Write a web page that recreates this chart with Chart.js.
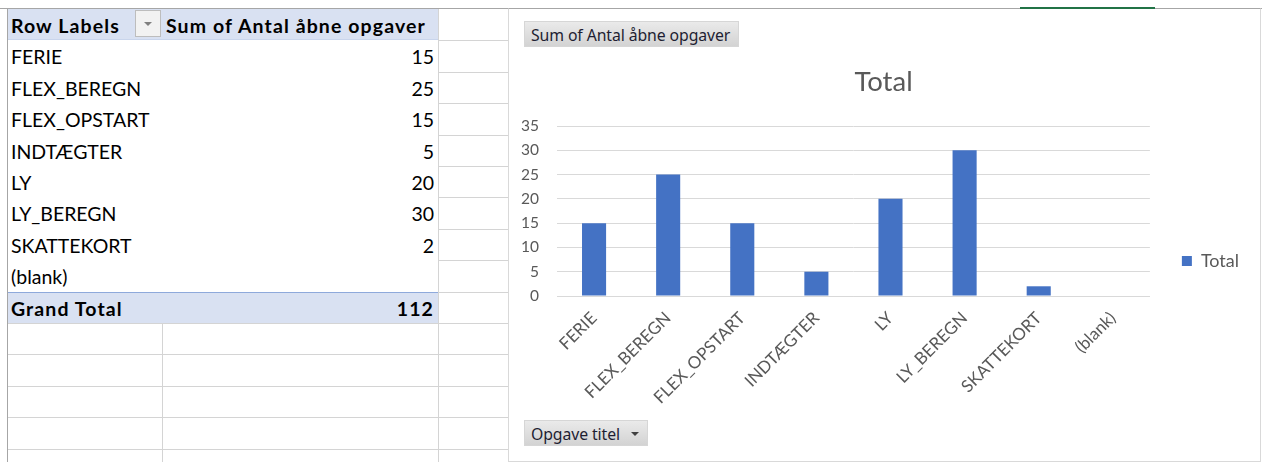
<!DOCTYPE html>
<html>
<head>
<meta charset="utf-8">
<script src="https://cdn.jsdelivr.net/npm/chart.js@4.4.1/dist/chart.umd.min.js"></script>
<style>
  html, body { margin: 0; padding: 0; background: #fff; width: 1262px; height: 462px; overflow: hidden; }
  #sheet { position: absolute; left: 0; top: 0; width: 1262px; height: 462px; font-family: Lato, "Liberation Sans", sans-serif; }
  .ln { position: absolute; }
  .cell { position: absolute; font-size: 19.5px; color: #000; white-space: nowrap; }
  .bold { font-weight: bold; letter-spacing: 1.1px; }
  #chartBox { position: absolute; left: 508px; top: 8px; width: 751px; height: 452px; border: 1px solid #d9d9d9; border-top-color: #a6a6a6; background: #fff; }
  #chart { position: absolute; left: 0; top: 0; }
  .fieldBtn { position: absolute; height: 26px; line-height: 26px; font-family: "Noto Sans", "Open Sans", sans-serif; font-size: 15.8px; color: #1e1e32;
              background: linear-gradient(#eaeaea, #d3d3d3); border: 1px solid #d6d6d6; box-sizing: border-box; padding-left: 6px; white-space: nowrap; letter-spacing: -0.1px; }
  .tri { position: absolute; width: 0; height: 0; border-left: 4px solid transparent; border-right: 4px solid transparent; border-top: 4px solid #404040; }
  #greenTab { position: absolute; left: 1020px; top: 7px; width: 135px; height: 2px; background: #217346; }
  #pivotDrop { position: absolute; left: 135px; top: 10px; width: 26px; height: 27px; box-sizing: border-box; border: 1px solid #bdbdbd; background: #f2f2f2; }
</style>
</head>
<body>
<div id="sheet"></div>
<div id="chartBox">
  <canvas id="chart" width="750" height="451"></canvas>
  <div class="fieldBtn" style="left:15px; top:12px; width:215px;">Sum of Antal åbne opgaver</div>
  <div class="fieldBtn" style="left:15px; top:411px; width:124px;">Opgave titel<span class="tri" style="left:106px; top:11px;"></span></div>
</div>
<div id="greenTab"></div>

<script>
// Pivot data: task titles and number of open tasks per title
const categories = ['FERIE', 'FLEX_BEREGN', 'FLEX_OPSTART', 'INDTÆGTER', 'LY', 'LY_BEREGN', 'SKATTEKORT', '(blank)'];
const openTasks = [15, 25, 15, 5, 20, 30, 2, null];
const seriesName = 'Total';
const rowHeader = 'Row Labels';
const valueHeader = 'Sum of Antal åbne opgaver';
const totalLabel = 'Grand Total';
const yTickMin = 0;
const yTickMax = 35;
const yTickStep = 5;

// ---- worksheet grid and pivot table ----
const sheet = document.getElementById('sheet');
const ROW_H = 31.4, Y0 = 9;
const X_A = 7, X_B = 162, X_C = 438, X_END = 508;
const rowTop = i => Y0 + ROW_H * i;

function box(x, y, w, h, color) {
  const d = document.createElement('div');
  d.className = 'ln';
  d.style.left = x + 'px'; d.style.top = y + 'px';
  d.style.width = w + 'px'; d.style.height = h + 'px';
  d.style.background = color;
  sheet.appendChild(d);
  return d;
}
function cell(txt, row, opts) {
  const d = document.createElement('div');
  d.className = 'cell' + (opts.bold ? ' bold' : '');
  d.textContent = txt;
  d.style.top = rowTop(row) + 'px';
  d.style.height = ROW_H + 'px';
  d.style.lineHeight = (ROW_H + 2) + 'px';
  if (opts.right !== undefined) { d.style.right = (1262 - opts.right) + 'px'; d.style.textAlign = 'right'; }
  else d.style.left = opts.left + 'px';
  sheet.appendChild(d);
}

const gridColor = '#d4d4d4';
const totalRow = categories.length + 1;
const lastRow = totalRow + 6;

// header and grand-total shading
box(X_A + 1, Y0, X_C - X_A - 1, ROW_H, '#d9e1f2');
box(X_A + 1, rowTop(1) - 1, X_C - X_A - 1, 1, '#c9d5ec');
box(X_A + 1, rowTop(totalRow), X_C - X_A - 1, ROW_H, '#d9e1f2');
box(X_A + 1, rowTop(totalRow), X_C - X_A - 1, 1, '#8ea9db');

// column C gridlines
for (let i = 1; i <= lastRow; i++) box(X_C, rowTop(i), X_END - X_C, 1, gridColor);
box(X_C, Y0, 1, 462 - Y0, gridColor);
// empty rows below the pivot
for (let i = totalRow + 1; i <= lastRow; i++) box(X_A, rowTop(i), X_C - X_A, 1, gridColor);
box(X_B, rowTop(totalRow + 1), 1, 462 - rowTop(totalRow + 1), gridColor);

// sheet outer edges
box(0, 8, 1262, 1, '#a6a6a6');
box(X_A, 8, 1, 462 - 8, '#a6a6a6');

// header row
cell(rowHeader, 0, { left: 11, bold: true });
cell(valueHeader, 0, { left: 166, bold: true });
const drop = document.createElement('div');
drop.id = 'pivotDrop';
drop.innerHTML = '<span class="tri" style="left:8px; top:11px; border-top-color:#808080;"></span>';
sheet.appendChild(drop);

// category rows
categories.forEach((c, i) => {
  cell(c, i + 1, { left: 11 });
  if (openTasks[i] !== null) cell(String(openTasks[i]), i + 1, { right: 434 });
});
const grandTotal = openTasks.reduce((s, v) => s + (v || 0), 0);
cell(totalLabel, totalRow, { left: 11, bold: true });
cell(String(grandTotal), totalRow, { right: 434, bold: true });

// ---- pivot chart ----
const grey = '#595959';
new Chart(document.getElementById('chart').getContext('2d'), {
  type: 'bar',
  data: {
    labels: categories,
    datasets: [{
      label: seriesName,
      data: openTasks,
      backgroundColor: '#4472c4',
      borderWidth: 0,
      categoryPercentage: 1,
      barPercentage: 0.325
    }]
  },
  options: {
    responsive: false,
    animation: false,
    devicePixelRatio: 1,
    layout: { padding: { left: 9, right: 10, top: 53, bottom: 0 } },
    plugins: {
      title: {
        display: true, text: seriesName, color: grey,
        font: { family: 'Lato', size: 27.5, weight: 'normal' },
        padding: { top: 4, bottom: 27 }
      },
      legend: {
        position: 'right',
        labels: { boxWidth: 10, boxHeight: 10, padding: 32, color: grey, font: { family: 'Lato', size: 18 } }
      },
      tooltip: { enabled: false }
    },
    scales: {
      x: {
        grid: { display: false },
        border: { display: true, color: '#d9d9d9' },
        ticks: { color: grey, font: { family: 'Lato', size: 17 }, minRotation: 45, maxRotation: 45, autoSkip: false, padding: 4 },
        afterFit(s) { s.height = 164; }
      },
      y: {
        min: yTickMin, max: yTickMax,
        grid: { color: '#d9d9d9', drawTicks: false },
        border: { display: false },
        ticks: { stepSize: yTickStep, color: grey, font: { family: 'Lato', size: 15.5 }, padding: 18 },
        afterFit(s) { s.width = 39; }
      }
    }
  }
});
</script>
</body>
</html>
